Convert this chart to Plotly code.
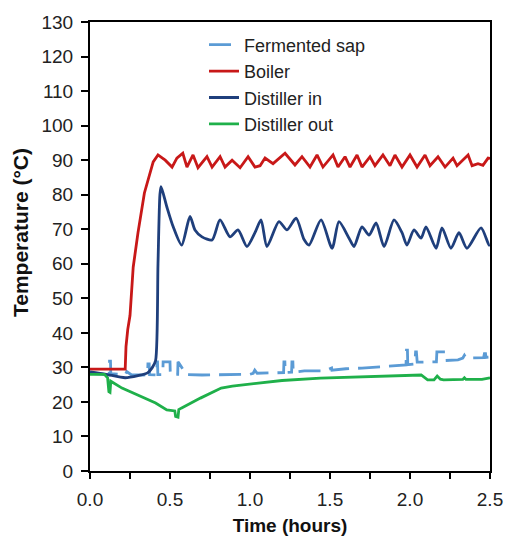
import plotly.graph_objects as go

# ---------------- data ----------------
sap_t = [0.0, 0.06, 0.12, 0.122, 0.128, 0.13, 0.2, 0.22, 0.23, 0.26, 0.33, 0.36, 0.362, 0.37, 0.372,
         0.41, 0.417, 0.419, 0.422, 0.424, 0.455, 0.457, 0.5, 0.502, 0.54, 0.548, 0.55, 0.56, 0.594,
         0.6, 0.7, 0.8, 0.9, 1.0, 1.02, 1.03, 1.045, 1.1, 1.21, 1.212, 1.218, 1.22, 1.26, 1.262, 1.268,
         1.27, 1.34, 1.47, 1.5, 1.51, 1.512, 1.6, 1.7, 1.8, 1.9, 1.975, 1.978, 1.984, 1.986, 2.03,
         2.035, 2.04, 2.045, 2.1, 2.165, 2.168, 2.22, 2.223, 2.3, 2.33, 2.34, 2.35, 2.41, 2.46, 2.465,
         2.472, 2.475, 2.5]
sap_v = [28.3, 28.0, 27.9, 31.8, 31.8, 28.2, 27.9, 27.8, 28.8, 27.8, 27.8, 27.9, 31.0, 31.0, 27.9,
         27.8, 27.8, 31.6, 31.6, 27.9, 27.9, 31.6, 31.6, 27.9, 27.9, 28.0, 31.6, 31.0, 28.5,
         27.9, 27.8, 27.8, 27.9, 28.0, 28.3, 29.2, 28.3, 28.4, 28.5, 31.6, 31.6, 28.5, 28.6, 31.6, 31.6,
         28.6, 29.0, 29.0, 29.6, 29.8, 29.2, 29.6, 29.8, 30.2, 30.5, 30.7, 35.0, 35.0, 30.8, 31.0,
         34.5, 34.5, 31.5, 31.5, 31.6, 34.5, 34.5, 32.0, 32.2, 32.7, 33.5, 32.7, 32.7, 32.8, 34.0,
         34.0, 32.9, 33.0]

boiler_t = [0.0, 0.22, 0.225, 0.236, 0.25, 0.27, 0.30, 0.34, 0.395, 0.425, 0.47, 0.513, 0.543, 0.58,
            0.606, 0.644, 0.675, 0.731, 0.763, 0.813, 0.844, 0.888, 0.938, 0.988, 1.031, 1.063, 1.094,
            1.144, 1.219, 1.281, 1.325, 1.375, 1.419, 1.456, 1.519, 1.55, 1.594, 1.625, 1.669, 1.70,
            1.75, 1.781, 1.831, 1.875, 1.906, 1.95, 2.0, 2.044, 2.094, 2.125, 2.175, 2.219, 2.269,
            2.294, 2.363, 2.388, 2.425, 2.456, 2.488, 2.5]
boiler_v = [29.5, 29.5, 36.0, 41.0, 45.0, 59.0, 69.0, 80.5, 89.5, 91.5, 90.0, 88.0, 90.6, 92.0,
            88.0, 91.5, 87.8, 91.0, 88.0, 91.0, 88.0, 90.0, 87.8, 91.0, 88.0, 88.4, 90.6,
            89.0, 92.0, 88.6, 91.0, 88.0, 91.5, 88.0, 91.5, 88.0, 91.0, 88.0, 91.5, 88.0,
            91.0, 88.4, 91.5, 88.4, 91.5, 88.0, 91.5, 88.0, 91.5, 88.4, 91.0, 88.0, 90.6,
            88.4, 91.5, 88.4, 89.0, 88.5, 90.6, 90.5]

dist_in_t = [0.0, 0.1, 0.22, 0.3, 0.36, 0.39, 0.41, 0.425, 0.437, 0.444, 0.48, 0.52, 0.573, 0.625,
             0.656, 0.7, 0.763, 0.8125, 0.875, 0.925, 0.981, 1.031, 1.069, 1.106, 1.181, 1.231,
             1.288, 1.338, 1.369, 1.444, 1.513, 1.556, 1.619, 1.65, 1.70, 1.744, 1.788, 1.838,
             1.90, 1.95, 1.981, 2.025, 2.069, 2.10, 2.163, 2.20, 2.256, 2.306, 2.356, 2.444,
             2.494, 2.5]
dist_in_v = [28.7, 28.0, 27.0, 27.6, 28.4, 30.0, 32.0, 60.0, 80.0, 82.3, 76.5, 70.7, 65.4, 73.7,
             69.8, 67.8, 66.9, 72.7, 67.8, 69.8, 65.0, 69.0, 72.7, 65.0, 72.2, 69.8,
             73.2, 67.0, 65.4, 72.7, 64.5, 72.2, 67.4, 65.0, 70.7, 68.3, 71.8, 65.0,
             72.7, 69.0, 65.4, 69.8, 67.4, 70.7, 64.5, 70.4, 64.5, 69.0, 64.5, 70.4,
             65.4, 65.5]

dist_out_t = [0.0, 0.09, 0.11, 0.118, 0.125, 0.13, 0.2, 0.31, 0.41, 0.48, 0.53, 0.535, 0.55, 0.555,
              0.57, 0.69, 0.82, 0.89, 1.025, 1.2, 1.44, 1.7, 1.96, 2.07, 2.11, 2.15, 2.17, 2.19,
              2.21, 2.3, 2.33, 2.34, 2.35, 2.45, 2.5]
dist_out_v = [28.0, 28.0, 27.0, 23.0, 22.8, 26.0, 24.0, 21.7, 19.7, 17.7, 17.4, 15.8, 15.6, 17.8,
              18.2, 21.1, 24.0, 24.6, 25.3, 26.2, 26.9, 27.2, 27.5, 27.8, 26.4, 26.4, 27.5, 26.6,
              26.4, 26.4, 26.5, 27.0, 26.5, 26.5, 27.0]

x_ticks = [0.0, 0.5, 1.0, 1.5, 2.0, 2.5]
x_tick_labels = ["0.0", "0.5", "1.0", "1.5", "2.0", "2.5"]
y_ticks = list(range(0, 131, 10))

# ---------------- figure ----------------
fig = go.Figure()
fig.add_trace(go.Scatter(x=sap_t, y=sap_v, mode="lines", name="Fermented sap",
                         line=dict(color="#5b9bd5", width=2.8, dash="22px,9px")))
fig.add_trace(go.Scatter(x=boiler_t, y=boiler_v, mode="lines", name="Boiler",
                         line=dict(color="#c81818", width=2.8)))
fig.add_trace(go.Scatter(x=dist_in_t, y=dist_in_v, mode="lines", name="Distiller in",
                         line=dict(color="#1f3f7c", width=2.8, shape="spline", smoothing=0.7)))
fig.add_trace(go.Scatter(x=dist_out_t, y=dist_out_v, mode="lines", name="Distiller out",
                         line=dict(color="#1fb04a", width=2.8)))

font_family = "Liberation Sans, Arial, sans-serif"

fig.update_layout(
    width=508, height=536,
    margin=dict(l=90, r=18, t=22, b=65, autoexpand=False),
    paper_bgcolor="white", plot_bgcolor="white",
    font=dict(family=font_family, size=19, color="#222222"),
    showlegend=True,
    legend=dict(x=0.285, y=0.99, xanchor="left", yanchor="top",
                bgcolor="rgba(0,0,0,0)", font=dict(size=18, color="#222222"),
                itemwidth=30, tracegroupgap=0),
    xaxis=dict(range=[0, 2.5], tickvals=x_ticks, ticktext=x_tick_labels,
               ticks="outside", ticklen=6, tickwidth=1.5, tickcolor="black",
               minor=dict(dtick=0.25, ticks="outside", ticklen=6, tickwidth=1.5, tickcolor="black"),
               showline=True, linecolor="black", linewidth=2, mirror=True,
               showgrid=False, zeroline=False, automargin=False,
               ticklabelstandoff=4,
               tickfont=dict(size=19, color="#222222"),
               title=dict(text="<b>Time (hours)</b>", font=dict(size=19, color="#111111"), standoff=10)),
    yaxis=dict(range=[0, 130], tickvals=y_ticks,
               ticks="outside", ticklen=7, tickwidth=1.5, tickcolor="black",
               showline=True, linecolor="black", linewidth=2, mirror=True,
               showgrid=False, zeroline=False, automargin=False,
               ticklabelstandoff=4,
               tickfont=dict(size=19, color="#222222")),
    annotations=[dict(text="<b>Temperature (°C)</b>", xref="paper", yref="paper",
                      x=-0.175, y=0.53, xanchor="center", yanchor="middle",
                      textangle=-90, showarrow=False,
                      font=dict(size=21, color="#111111"))],
)

fig.write_html("out.html", config={"displayModeBar": False},
               post_script="document.body.style.margin='0';document.body.style.overflow='hidden';")
